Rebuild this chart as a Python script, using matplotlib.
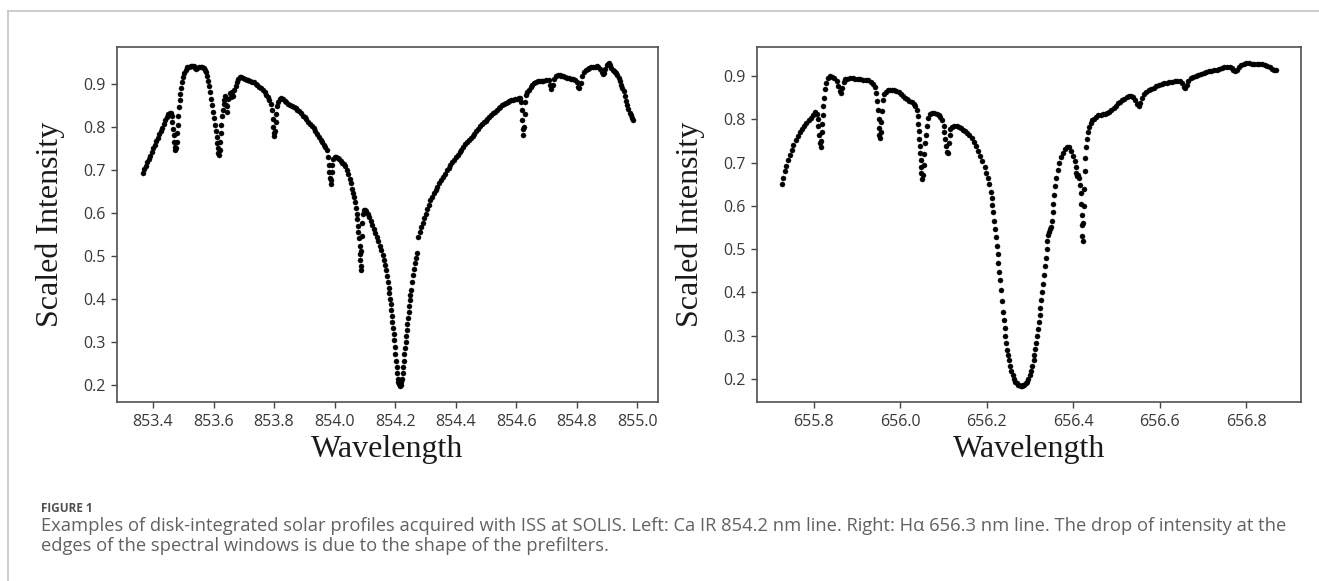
import matplotlib
matplotlib.use("Agg")
import matplotlib.pyplot as plt
from matplotlib.lines import Line2D

# ---------------- data ----------------
ca_wavelength = [
    853.366, 853.371, 853.376, 853.381, 853.386, 853.391, 853.396, 853.401, 853.406, 853.411,
    853.416, 853.421, 853.426, 853.431, 853.436, 853.441, 853.446, 853.451, 853.455, 853.459,
    853.462, 853.464, 853.466, 853.468, 853.470, 853.472, 853.474, 853.476, 853.478, 853.480,
    853.482, 853.484, 853.486, 853.488, 853.490, 853.493, 853.496, 853.500, 853.504, 853.509,
    853.514, 853.519, 853.524, 853.529, 853.534, 853.539, 853.543, 853.547, 853.552, 853.557,
    853.562, 853.567, 853.572, 853.576, 853.580, 853.583, 853.586, 853.589, 853.592, 853.595,
    853.598, 853.601, 853.604, 853.607, 853.610, 853.612, 853.614, 853.616, 853.618, 853.620,
    853.622, 853.624, 853.626, 853.628, 853.630, 853.633, 853.636, 853.639, 853.642, 853.644,
    853.646, 853.649, 853.653, 853.657, 853.661, 853.665, 853.669, 853.673, 853.677, 853.681,
    853.686, 853.691, 853.697, 853.703, 853.709, 853.715, 853.721, 853.727, 853.733, 853.739,
    853.745, 853.751, 853.757, 853.763, 853.769, 853.775, 853.780, 853.785, 853.789, 853.792,
    853.795, 853.797, 853.799, 853.801, 853.803, 853.805, 853.807, 853.810, 853.814, 853.819,
    853.824, 853.829, 853.835, 853.841, 853.847, 853.853, 853.859, 853.865, 853.871, 853.877,
    853.883, 853.889, 853.895, 853.901, 853.907, 853.913, 853.919, 853.925, 853.931, 853.937,
    853.943, 853.949, 853.955, 853.960, 853.965, 853.970, 853.975, 853.978, 853.981, 853.983,
    853.985, 853.987, 853.989, 853.991, 853.993, 853.996, 854.000, 854.005, 854.010, 854.015,
    854.020, 854.025, 854.030, 854.035, 854.040, 854.045, 854.050, 854.054, 854.058, 854.062,
    854.065, 854.068, 854.071, 854.073, 854.075, 854.077, 854.079, 854.081, 854.083, 854.084,
    854.085, 854.086, 854.087, 854.089, 854.090, 854.091, 854.093, 854.096, 854.100, 854.105,
    854.110, 854.115, 854.120, 854.125, 854.130, 854.135, 854.140, 854.145, 854.150, 854.155,
    854.160, 854.164, 854.168, 854.171, 854.174, 854.177, 854.179, 854.181, 854.183, 854.185,
    854.187, 854.189, 854.191, 854.193, 854.195, 854.197, 854.199, 854.201, 854.203, 854.205,
    854.207, 854.209, 854.211, 854.213, 854.215, 854.217, 854.219, 854.221, 854.223, 854.225,
    854.227, 854.229, 854.231, 854.233, 854.235, 854.237, 854.239, 854.241, 854.243, 854.245,
    854.247, 854.249, 854.251, 854.253, 854.256, 854.259, 854.262, 854.265, 854.268, 854.271,
    854.276, 854.281, 854.286, 854.291, 854.296, 854.301, 854.306, 854.311, 854.316, 854.322,
    854.328, 854.334, 854.340, 854.346, 854.352, 854.358, 854.364, 854.371, 854.377, 854.383,
    854.389, 854.395, 854.401, 854.407, 854.413, 854.419, 854.426, 854.432, 854.438, 854.444,
    854.450, 854.456, 854.462, 854.468, 854.474, 854.481, 854.487, 854.493, 854.499, 854.505,
    854.511, 854.517, 854.523, 854.529, 854.536, 854.542, 854.548, 854.554, 854.560, 854.566,
    854.572, 854.578, 854.584, 854.590, 854.596, 854.602, 854.608, 854.613, 854.616, 854.618,
    854.620, 854.622, 854.624, 854.626, 854.628, 854.630, 854.633, 854.637, 854.642, 854.648,
    854.654, 854.660, 854.666, 854.672, 854.678, 854.684, 854.690, 854.700, 854.708, 854.713,
    854.717, 854.721, 854.726, 854.732, 854.738, 854.744, 854.750, 854.756, 854.762, 854.768,
    854.775, 854.782, 854.789, 854.796, 854.801, 854.805, 854.809, 854.813, 854.818, 854.824,
    854.830, 854.836, 854.842, 854.848, 854.854, 854.860, 854.866, 854.872, 854.878, 854.883,
    854.887, 854.891, 854.895, 854.899, 854.903, 854.907, 854.911, 854.915, 854.919, 854.923,
    854.927, 854.931, 854.935, 854.939, 854.943, 854.947, 854.951, 854.955, 854.959, 854.963,
    854.967, 854.971, 854.975, 854.979, 854.983, 854.987,
]
ca_intensity = [
    0.693, 0.701, 0.709, 0.717, 0.725, 0.733, 0.742, 0.750, 0.758, 0.766,
    0.774, 0.782, 0.790, 0.798, 0.806, 0.815, 0.823, 0.830, 0.833, 0.832,
    0.825, 0.810, 0.795, 0.780, 0.765, 0.752, 0.746, 0.750, 0.765, 0.785,
    0.805, 0.825, 0.845, 0.862, 0.876, 0.890, 0.903, 0.915, 0.925, 0.933,
    0.938, 0.940, 0.941, 0.942, 0.941, 0.937, 0.934, 0.936, 0.939, 0.940,
    0.939, 0.937, 0.933, 0.927, 0.918, 0.907, 0.895, 0.880, 0.865, 0.850,
    0.835, 0.820, 0.805, 0.790, 0.775, 0.762, 0.750, 0.738, 0.734, 0.745,
    0.765, 0.785, 0.805, 0.825, 0.840, 0.852, 0.862, 0.872, 0.850, 0.835,
    0.848, 0.865, 0.878, 0.870, 0.880, 0.872, 0.885, 0.895, 0.905, 0.912,
    0.916, 0.915, 0.913, 0.911, 0.909, 0.908, 0.906, 0.905, 0.903, 0.900,
    0.897, 0.893, 0.889, 0.885, 0.880, 0.875, 0.869, 0.862, 0.852, 0.838,
    0.818, 0.800, 0.785, 0.778, 0.790, 0.810, 0.830, 0.848, 0.858, 0.864,
    0.866, 0.865, 0.861, 0.857, 0.853, 0.851, 0.849, 0.846, 0.843, 0.840,
    0.836, 0.831, 0.826, 0.822, 0.817, 0.812, 0.807, 0.802, 0.796, 0.790,
    0.784, 0.777, 0.770, 0.764, 0.758, 0.752, 0.745, 0.730, 0.712, 0.695,
    0.680, 0.666, 0.675, 0.695, 0.712, 0.724, 0.730, 0.730, 0.727, 0.724,
    0.720, 0.716, 0.714, 0.708, 0.700, 0.690, 0.679, 0.668, 0.656, 0.645,
    0.636, 0.625, 0.610, 0.598, 0.585, 0.570, 0.555, 0.540, 0.522, 0.505,
    0.490, 0.476, 0.466, 0.510, 0.545, 0.575, 0.598, 0.606, 0.606, 0.603,
    0.597, 0.589, 0.581, 0.572, 0.563, 0.553, 0.543, 0.533, 0.523, 0.513,
    0.502, 0.491, 0.478, 0.466, 0.452, 0.438, 0.425, 0.413, 0.400, 0.387,
    0.373, 0.360, 0.346, 0.332, 0.318, 0.303, 0.288, 0.272, 0.256, 0.240,
    0.226, 0.214, 0.206, 0.201, 0.198, 0.197, 0.199, 0.205, 0.214, 0.226,
    0.240, 0.255, 0.270, 0.285, 0.300, 0.314, 0.328, 0.342, 0.356, 0.370,
    0.383, 0.396, 0.409, 0.421, 0.438, 0.454, 0.469, 0.482, 0.495, 0.507,
    0.544, 0.555, 0.566, 0.577, 0.587, 0.598, 0.608, 0.619, 0.629, 0.637,
    0.645, 0.653, 0.660, 0.668, 0.676, 0.684, 0.691, 0.699, 0.705, 0.711,
    0.717, 0.723, 0.729, 0.735, 0.741, 0.747, 0.754, 0.759, 0.764, 0.769,
    0.774, 0.779, 0.784, 0.790, 0.795, 0.801, 0.806, 0.810, 0.814, 0.818,
    0.823, 0.827, 0.831, 0.835, 0.840, 0.843, 0.847, 0.850, 0.853, 0.856,
    0.858, 0.860, 0.862, 0.863, 0.864, 0.865, 0.866, 0.866, 0.858, 0.840,
    0.815, 0.795, 0.781, 0.800, 0.830, 0.858, 0.874, 0.880, 0.886, 0.892,
    0.897, 0.901, 0.904, 0.906, 0.907, 0.907, 0.907, 0.909, 0.908, 0.898,
    0.887, 0.897, 0.910, 0.918, 0.921, 0.921, 0.919, 0.917, 0.916, 0.913,
    0.913, 0.912, 0.911, 0.909, 0.903, 0.893, 0.889, 0.902, 0.917, 0.927,
    0.932, 0.935, 0.937, 0.939, 0.940, 0.940, 0.941, 0.939, 0.934, 0.927,
    0.922, 0.925, 0.935, 0.943, 0.947, 0.948, 0.943, 0.937, 0.932, 0.929,
    0.927, 0.925, 0.921, 0.914, 0.906, 0.898, 0.890, 0.882, 0.871, 0.860,
    0.850, 0.841, 0.833, 0.827, 0.821, 0.815,
]

ha_wavelength = [
    655.727, 655.730, 655.733, 655.737, 655.741, 655.745, 655.749, 655.753, 655.758, 655.763,
    655.768, 655.773, 655.778, 655.783, 655.788, 655.793, 655.798, 655.803, 655.807, 655.809,
    655.811, 655.813, 655.815, 655.816, 655.818, 655.819, 655.820, 655.821, 655.822, 655.824,
    655.826, 655.829, 655.833, 655.838, 655.843, 655.848, 655.853, 655.857, 655.860, 655.863,
    655.866, 655.869, 655.873, 655.878, 655.884, 655.890, 655.896, 655.902, 655.908, 655.914,
    655.920, 655.926, 655.932, 655.937, 655.941, 655.944, 655.946, 655.948, 655.950, 655.951,
    655.952, 655.953, 655.955, 655.956, 655.957, 655.959, 655.962, 655.966, 655.971, 655.976,
    655.981, 655.986, 655.991, 655.996, 656.001, 656.006, 656.011, 656.016, 656.021, 656.026,
    656.031, 656.035, 656.038, 656.040, 656.042, 656.043, 656.044, 656.045, 656.046, 656.047,
    656.048, 656.049, 656.050, 656.052, 656.054, 656.056, 656.058, 656.060, 656.062, 656.065,
    656.069, 656.074, 656.079, 656.084, 656.089, 656.093, 656.097, 656.100, 656.102, 656.104,
    656.106, 656.108, 656.110, 656.112, 656.114, 656.116, 656.120, 656.125, 656.130, 656.135,
    656.140, 656.145, 656.150, 656.155, 656.160, 656.165, 656.170, 656.175, 656.180, 656.185,
    656.190, 656.195, 656.199, 656.203, 656.206, 656.209, 656.211, 656.213, 656.215, 656.217,
    656.219, 656.221, 656.223, 656.225, 656.227, 656.229, 656.231, 656.233, 656.235, 656.237,
    656.239, 656.241, 656.243, 656.245, 656.247, 656.249, 656.251, 656.254, 656.257, 656.260,
    656.263, 656.266, 656.269, 656.272, 656.275, 656.278, 656.281, 656.284, 656.287, 656.290,
    656.293, 656.296, 656.299, 656.302, 656.305, 656.308, 656.310, 656.312, 656.314, 656.316,
    656.318, 656.320, 656.322, 656.324, 656.326, 656.328, 656.330, 656.332, 656.334, 656.336,
    656.338, 656.340, 656.342, 656.344, 656.346, 656.348, 656.350, 656.352, 656.354, 656.356,
    656.358, 656.361, 656.364, 656.367, 656.371, 656.375, 656.380, 656.385, 656.390, 656.395,
    656.400, 656.403, 656.405, 656.407, 656.409, 656.411, 656.413, 656.415, 656.417, 656.418,
    656.419, 656.420, 656.421, 656.422, 656.423, 656.424, 656.425, 656.426, 656.427, 656.429,
    656.431, 656.433, 656.436, 656.440, 656.444, 656.448, 656.453, 656.458, 656.463, 656.468,
    656.473, 656.478, 656.483, 656.488, 656.493, 656.498, 656.503, 656.508, 656.513, 656.518,
    656.523, 656.528, 656.533, 656.538, 656.543, 656.547, 656.551, 656.555, 656.559, 656.564,
    656.569, 656.574, 656.580, 656.586, 656.592, 656.598, 656.604, 656.610, 656.616, 656.622,
    656.628, 656.634, 656.640, 656.646, 656.651, 656.655, 656.658, 656.662, 656.666, 656.671,
    656.677, 656.683, 656.689, 656.695, 656.701, 656.707, 656.713, 656.719, 656.725, 656.731,
    656.737, 656.743, 656.749, 656.755, 656.761, 656.766, 656.770, 656.774, 656.778, 656.783,
    656.788, 656.794, 656.800, 656.806, 656.812, 656.818, 656.824, 656.830, 656.836, 656.842,
    656.848, 656.854, 656.859, 656.864, 656.869,
]
ha_intensity = [
    0.650, 0.665, 0.680, 0.693, 0.706, 0.718, 0.730, 0.741, 0.752, 0.762,
    0.770, 0.777, 0.784, 0.791, 0.798, 0.804, 0.810, 0.816, 0.812, 0.800,
    0.785, 0.765, 0.745, 0.736, 0.750, 0.770, 0.790, 0.810, 0.830, 0.850,
    0.870, 0.885, 0.895, 0.900, 0.899, 0.896, 0.889, 0.878, 0.866, 0.860,
    0.872, 0.886, 0.893, 0.894, 0.895, 0.895, 0.894, 0.894, 0.893, 0.892,
    0.891, 0.890, 0.887, 0.882, 0.874, 0.860, 0.842, 0.822, 0.800, 0.780,
    0.765, 0.756, 0.770, 0.795, 0.820, 0.845, 0.858, 0.864, 0.867, 0.868,
    0.868, 0.867, 0.866, 0.863, 0.858, 0.853, 0.849, 0.846, 0.843, 0.840,
    0.836, 0.830, 0.822, 0.808, 0.790, 0.772, 0.755, 0.738, 0.722, 0.706,
    0.690, 0.675, 0.662, 0.672, 0.695, 0.720, 0.745, 0.765, 0.785, 0.803,
    0.813, 0.815, 0.814, 0.812, 0.810, 0.806, 0.798, 0.785, 0.770, 0.755,
    0.738, 0.724, 0.722, 0.745, 0.765, 0.777, 0.783, 0.785, 0.784, 0.782,
    0.779, 0.776, 0.772, 0.768, 0.764, 0.757, 0.748, 0.738, 0.727, 0.716,
    0.703, 0.690, 0.677, 0.665, 0.650, 0.633, 0.618, 0.602, 0.585, 0.566,
    0.547, 0.528, 0.508, 0.488, 0.468, 0.448, 0.428, 0.405, 0.380, 0.355,
    0.336, 0.318, 0.300, 0.283, 0.268, 0.255, 0.244, 0.230, 0.218, 0.208,
    0.200, 0.194, 0.190, 0.187, 0.185, 0.184, 0.184, 0.185, 0.187, 0.190,
    0.194, 0.200, 0.208, 0.218, 0.230, 0.244, 0.256, 0.270, 0.284, 0.299,
    0.315, 0.331, 0.348, 0.365, 0.383, 0.401, 0.420, 0.440, 0.460, 0.480,
    0.500, 0.518, 0.532, 0.540, 0.546, 0.552, 0.566, 0.585, 0.605, 0.625,
    0.645, 0.665, 0.684, 0.700, 0.713, 0.723, 0.731, 0.735, 0.735, 0.728,
    0.716, 0.703, 0.690, 0.676, 0.668, 0.672, 0.665, 0.648, 0.630, 0.605,
    0.580, 0.555, 0.530, 0.518, 0.560, 0.600, 0.640, 0.680, 0.710, 0.735,
    0.755, 0.770, 0.782, 0.791, 0.798, 0.802, 0.806, 0.809, 0.811, 0.812,
    0.813, 0.815, 0.817, 0.822, 0.827, 0.832, 0.837, 0.841, 0.845, 0.848,
    0.851, 0.853, 0.853, 0.851, 0.845, 0.836, 0.830, 0.838, 0.850, 0.859,
    0.864, 0.867, 0.870, 0.873, 0.876, 0.879, 0.881, 0.883, 0.885, 0.886,
    0.887, 0.888, 0.889, 0.888, 0.883, 0.875, 0.872, 0.880, 0.889, 0.895,
    0.898, 0.901, 0.903, 0.905, 0.907, 0.909, 0.911, 0.912, 0.913, 0.915,
    0.917, 0.919, 0.921, 0.922, 0.922, 0.918, 0.913, 0.912, 0.915, 0.921,
    0.926, 0.929, 0.930, 0.930, 0.929, 0.929, 0.928, 0.928, 0.927, 0.925,
    0.923, 0.920, 0.917, 0.915, 0.914,
]

ca_xticks = [853.4, 853.6, 853.8, 854.0, 854.2, 854.4, 854.6, 854.8, 855.0]
ha_xticks = [655.8, 656.0, 656.2, 656.4, 656.6, 656.8]
ca_yticks = [0.2, 0.3, 0.4, 0.5, 0.6, 0.7, 0.8, 0.9]
ha_yticks = [0.2, 0.3, 0.4, 0.5, 0.6, 0.7, 0.8, 0.9]

x_label = "Wavelength"
y_label = "Scaled Intensity"
fig_label = "FIGURE 1"
caption_lines = [
    "Examples of disk-integrated solar profiles acquired with ISS at SOLIS. Left: Ca IR 854.2 nm line. "
    "Right: H\u03b1 656.3 nm line. The drop of intensity at the",
    "edges of the spectral windows is due to the shape of the prefilters.",
]

# ---------------- figure ----------------
W, H = 1319, 581
fig = plt.figure(figsize=(W / 100, H / 100), dpi=100)
fig.patch.set_facecolor("white")

tick_font = ["Open Sans", "DejaVu Sans"]
serif_font = ["Liberation Serif", "DejaVu Serif"]


def px_rect(x0, y0, x1, y1):
    return [x0 / W, 1 - y1 / H, (x1 - x0) / W, (y1 - y0) / H]


def style_axes(ax, xs, ys, xticks, yticks):
    ax.plot(xs, ys, linestyle="none", marker="o", markersize=3.7,
            markerfacecolor="black", markeredgecolor="black", markeredgewidth=0.2)
    ax.set_xticks(xticks)
    ax.set_yticks(yticks)
    ax.set_xticklabels([f"{t:.1f}" for t in xticks])
    ax.set_yticklabels([f"{t:.1f}" for t in yticks])
    for lab in ax.get_xticklabels() + ax.get_yticklabels():
        lab.set_family(tick_font)
        lab.set_fontsize(11.5)
        lab.set_color("#383838")
    ax.tick_params(axis="both", direction="out", length=4.5, width=1.0,
                   color="#444444", pad=4)
    for sp in ax.spines.values():
        sp.set_color("#505050")
        sp.set_linewidth(1.2)
    ax.set_xlabel(x_label, family=serif_font, fontsize=23, color="#1a1a1a", labelpad=4)
    ax.set_ylabel(y_label, family=serif_font, fontsize=23, color="#1a1a1a", labelpad=13)
    ax.margins(x=0.05, y=0.05)


ax1 = fig.add_axes(px_rect(117, 47, 658, 402))
style_axes(ax1, ca_wavelength, ca_intensity, ca_xticks, ca_yticks)
ax1.set_xlim(853.281, 855.069)

ax2 = fig.add_axes(px_rect(757, 47, 1301, 402))
style_axes(ax2, ha_wavelength, ha_intensity, ha_xticks, ha_yticks)
ax2.set_xlim(655.669, 656.926)

# outer frame (left and top rules)
frame_col = "#c4c4c4"
fig.add_artist(Line2D([8 / W, 8 / W], [0, 1 - 11 / H], transform=fig.transFigure,
                      color=frame_col, linewidth=1.2))
fig.add_artist(Line2D([8 / W, 1], [1 - 11 / H, 1 - 11 / H], transform=fig.transFigure,
                      color=frame_col, linewidth=1.2))

# caption
cap_font = ["Open Sans", "DejaVu Sans"]
fig.text(41 / W, 1 - 508 / H, fig_label, family=cap_font, fontsize=8.5,
         fontweight="bold", color="#4f4f4f", va="center", ha="left")
fig.text(41 / W, 1 - 526 / H, caption_lines[0], family=cap_font, fontsize=13.2,
         color="#626262", va="center", ha="left")
fig.text(41 / W, 1 - 546 / H, caption_lines[1], family=cap_font, fontsize=13.2,
         color="#626262", va="center", ha="left")

fig.savefig("out.png", dpi=100)
